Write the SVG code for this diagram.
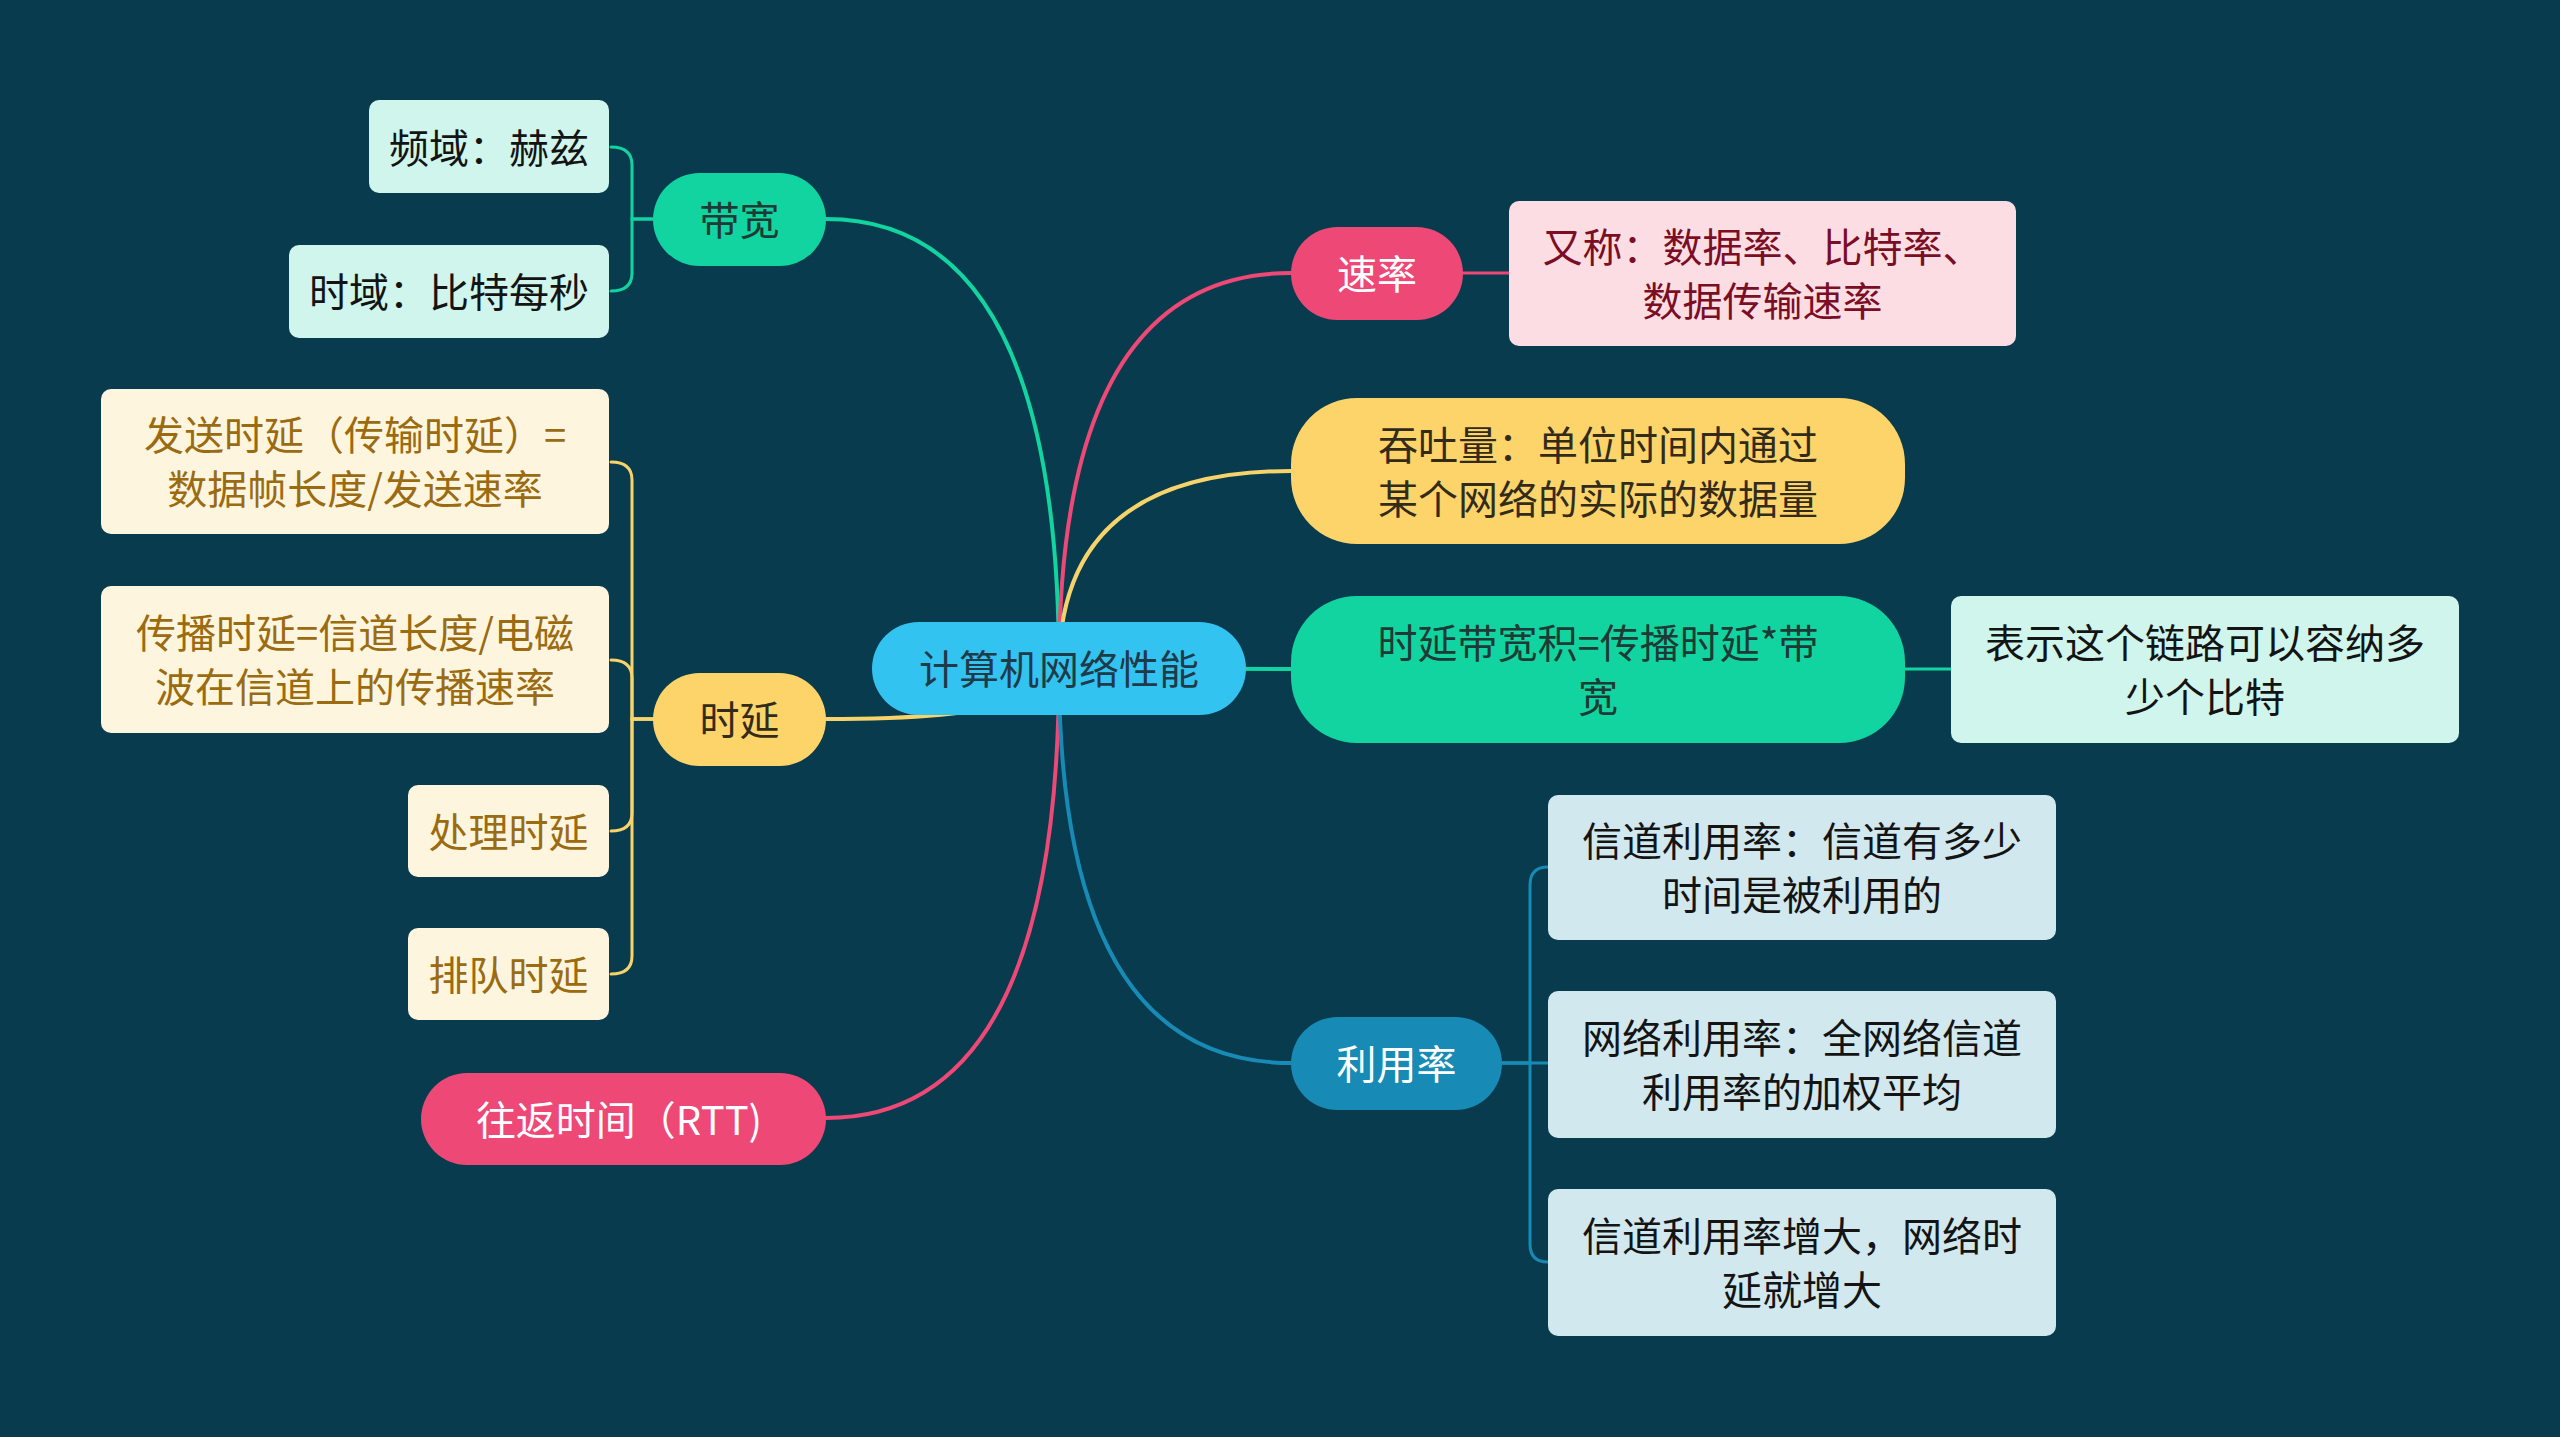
<svg xmlns="http://www.w3.org/2000/svg" width="2560" height="1437" viewBox="0 0 2560 1437">
<style>
text{font-family:"Noto Sans CJK SC","Noto Sans",sans-serif;font-size:40px;text-anchor:middle}
.c{fill:none;stroke-width:4;stroke-linecap:round}
.s{fill:none;stroke-width:3;stroke-linecap:round}
.g{stroke:#12d4a0}.r{stroke:#ee4876}.y{stroke:#f7d46b}.b{stroke:#178bb5}
.mint{fill:#d0f5ec}.cream{fill:#fdf5de}.pink{fill:#fddde4}.lb{fill:#d1e8ef}
.tk{fill:#141414}.tg{fill:#9a6b10}.tr{fill:#7a0e24}.tw{fill:#ffffff}.td{fill:#1f3a48}.tn{fill:#1e3a34}.ty{fill:#332b1a}
</style>
<rect width="2560" height="1437" fill="#083b4d"/>
<g id="connectors">
<path class="c g" d="M1059,668 Q1059,219 826,219"/>
<path class="c y" d="M1059,668 Q1059,719 826,719"/>
<path class="c r" d="M1059,668 Q1059,1118 826,1118"/>
<path class="c r" d="M1059,668 Q1059,273 1291,273"/>
<path class="c y" d="M1059,668 Q1059,471 1291,471"/>
<path class="c g" d="M1059,668 L1291,669"/>
<path class="c b" d="M1059,668 Q1059,1063 1291,1063"/>
<path class="s g" d="M653,219 H632 V165 Q632,147 611,147"/>
<path class="s g" d="M653,219 H632 V273 Q632,291 611,291"/>
<path class="s y" d="M653,719 H632 V480 Q632,462 611,462"/>
<path class="s y" d="M653,719 H632 V678 Q632,660 611,660"/>
<path class="s y" d="M653,719 H632 V813 Q632,831 611,831"/>
<path class="s y" d="M653,719 H632 V956 Q632,974 611,974"/>
<path class="s r" d="M1463,273 H1509"/>
<path class="s g" d="M1905,669 H1951"/>
<path class="s b" d="M1502,1063 H1530 V885 Q1530,867 1548,867"/>
<path class="s b" d="M1502,1063 H1548"/>
<path class="s b" d="M1502,1063 H1530 V1244 Q1530,1262 1548,1262"/>
</g>
<g id="root">
<rect x="872" y="622" width="374" height="93" rx="46.5" fill="#33c3f0"/>
<text class="td" x="1059" y="684">计算机网络性能</text>
</g>
<g id="n-bandwidth">
<rect x="653" y="173" width="173" height="93" rx="46.5" fill="#12d4a0"/>
<text class="tn" x="739.5" y="235">带宽</text>
</g>
<g id="n-freq">
<rect class="mint" x="369" y="100" width="240" height="93" rx="10"/>
<text class="tk" x="489" y="163">频域：赫兹</text>
</g>
<g id="n-timedomain">
<rect class="mint" x="289" y="245" width="320" height="93" rx="10"/>
<text class="tk" x="449" y="307">时域：比特每秒</text>
</g>
<g id="n-delay">
<rect x="653" y="673" width="173" height="93" rx="46.5" fill="#fcd46a"/>
<text class="ty" x="739.5" y="735">时延</text>
</g>
<g id="n-send">
<rect class="cream" x="101" y="389" width="508" height="145" rx="10"/>
<text class="tg" x="355" y="450">发送时延（传输时延）=</text>
<text class="tg" x="355" y="504">数据帧长度/发送速率</text>
</g>
<g id="n-prop">
<rect class="cream" x="101" y="586" width="508" height="147" rx="10"/>
<text class="tg" x="355" y="648">传播时延=信道长度/电磁</text>
<text class="tg" x="355" y="702">波在信道上的传播速率</text>
</g>
<g id="n-proc">
<rect class="cream" x="408" y="785" width="201" height="92" rx="10"/>
<text class="tg" x="508.5" y="847">处理时延</text>
</g>
<g id="n-queue">
<rect class="cream" x="408" y="928" width="201" height="92" rx="10"/>
<text class="tg" x="508.5" y="990">排队时延</text>
</g>
<g id="n-rtt">
<rect x="421" y="1073" width="405" height="92" rx="46" fill="#ee4876"/>
<text class="tw" x="619" y="1135">往返时间（RTT)</text>
</g>
<g id="n-rate">
<rect x="1291" y="227" width="172" height="93" rx="46.5" fill="#ee4876"/>
<text class="tw" x="1377" y="289">速率</text>
</g>
<g id="n-rate-alias">
<rect class="pink" x="1509" y="201" width="507" height="145" rx="10"/>
<text class="tr" x="1762.5" y="262">又称：数据率、比特率、</text>
<text class="tr" x="1762.5" y="316">数据传输速率</text>
</g>
<g id="n-throughput">
<rect x="1291" y="398" width="614" height="146" rx="66" fill="#fcd46a"/>
<text class="ty" x="1598" y="460">吞吐量：单位时间内通过</text>
<text class="ty" x="1598" y="514">某个网络的实际的数据量</text>
</g>
<g id="n-dbp">
<rect x="1291" y="596" width="614" height="147" rx="66" fill="#12d4a0"/>
<text class="tn" x="1598" y="658">时延带宽积=传播时延*带</text>
<text class="tn" x="1598" y="712">宽</text>
</g>
<g id="n-dbp-desc">
<rect class="mint" x="1951" y="596" width="508" height="147" rx="10"/>
<text class="tk" x="2205" y="658">表示这个链路可以容纳多</text>
<text class="tk" x="2205" y="712">少个比特</text>
</g>
<g id="n-util">
<rect x="1291" y="1017" width="211" height="93" rx="46.5" fill="#178bb5"/>
<text class="tw" x="1396.5" y="1079">利用率</text>
</g>
<g id="n-channel-util">
<rect class="lb" x="1548" y="795" width="508" height="145" rx="10"/>
<text class="tk" x="1802" y="856">信道利用率：信道有多少</text>
<text class="tk" x="1802" y="910">时间是被利用的</text>
</g>
<g id="n-network-util">
<rect class="lb" x="1548" y="991" width="508" height="147" rx="10"/>
<text class="tk" x="1802" y="1053">网络利用率：全网络信道</text>
<text class="tk" x="1802" y="1107">利用率的加权平均</text>
</g>
<g id="n-util-delay">
<rect class="lb" x="1548" y="1189" width="508" height="147" rx="10"/>
<text class="tk" x="1802" y="1251">信道利用率增大，网络时</text>
<text class="tk" x="1802" y="1305">延就增大</text>
</g>
</svg>
